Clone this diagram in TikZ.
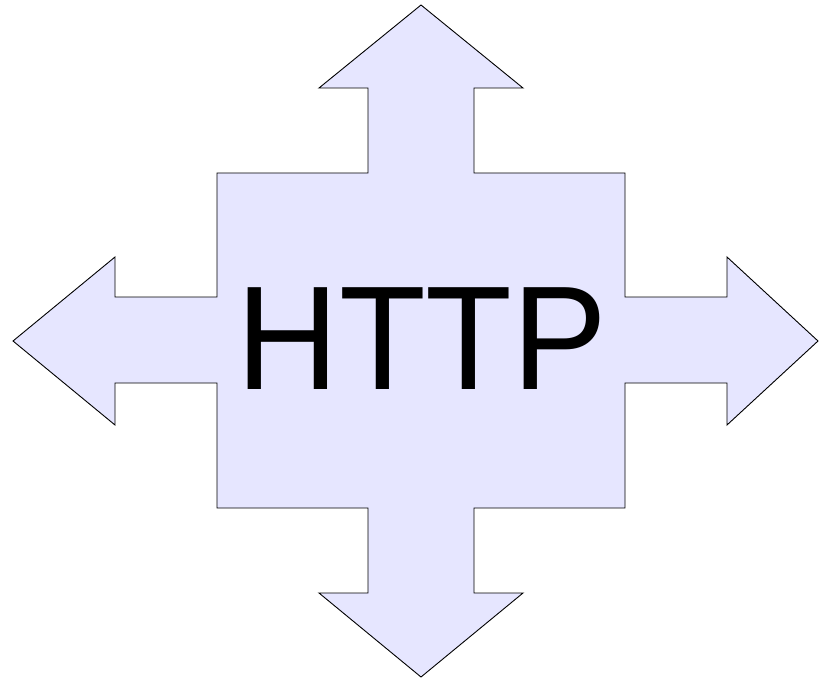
\documentclass[tikz,border=0pt]{standalone}
\usepackage{fontspec}
\setmainfont{Liberation Sans}
\definecolor{lavender}{HTML}{E6E6FF}
\tikzset{
  crossshape/.style={draw=black, fill=lavender, line width=0.9pt, line join=miter},
  bigtext/.style={font=\fontsize{148}{150}\selectfont, inner sep=0pt, anchor=base, xscale=0.96}
}
\begin{document}
\begin{tikzpicture}[x=1pt, y=-1pt]
  \useasboundingbox (0,0) rectangle (819,679);
  % four-way arrow around a square body
  \draw[crossshape]
    (217,173) -- (368,173) -- (368,88) -- (319,88) -- (421,5) -- (523,88) -- (474,88) -- (474,173)
    -- (625,173) -- (625,297) -- (727,297) -- (727,257) -- (818,341) -- (727,425) -- (727,383) -- (625,383)
    -- (625,508) -- (474,508) -- (474,593) -- (523,593) -- (421,677) -- (319,593) -- (368,593) -- (368,508)
    -- (217,508) -- (217,383) -- (115,383) -- (115,425) -- (13,341) -- (115,257) -- (115,297) -- (217,297)
    -- cycle;
  \node[bigtext] (label) at (422,389) {HTTP};
\end{tikzpicture}
\end{document}
